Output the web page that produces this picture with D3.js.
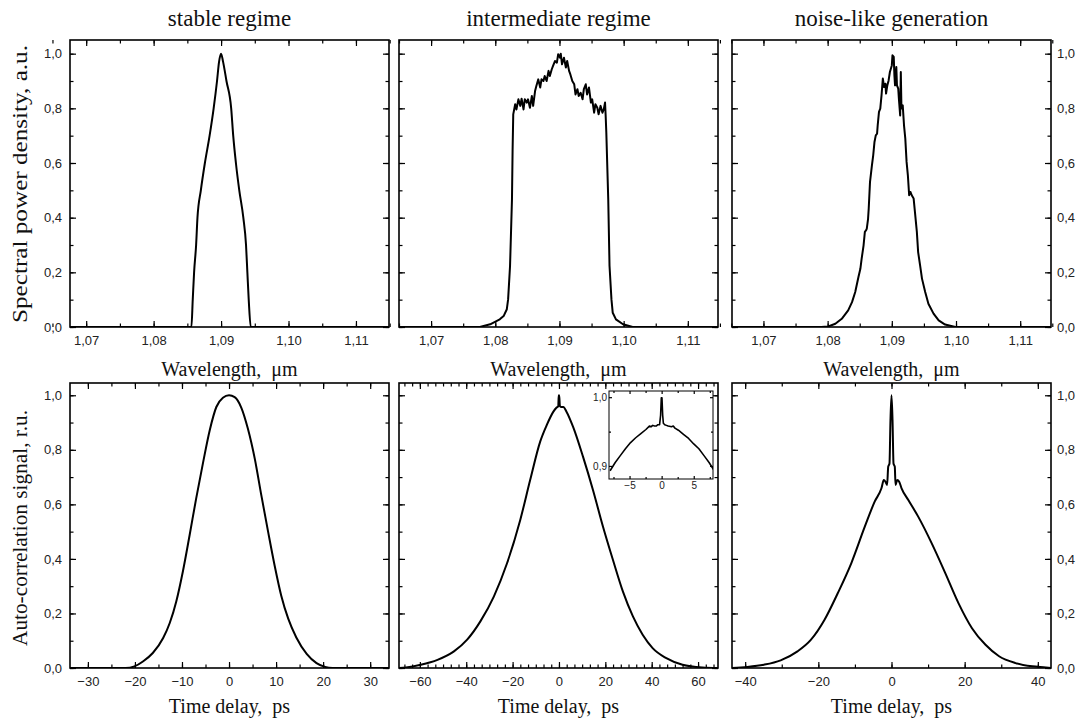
<!DOCTYPE html>
<html>
<head>
<meta charset="utf-8">
<script src="https://cdn.jsdelivr.net/npm/d3@7"></script>
<style>
body { margin: 0; background: #fff; }
.tick text { font-family: "Liberation Sans", Arial, sans-serif; font-size: 13px; fill: #222; }
.tick line { stroke: #000; stroke-width: 1.2; }
.inset .tick text { font-size: 10px; }
.lbl { font-family: "Liberation Serif", "Times New Roman", serif; fill: #111; white-space: pre; }
</style>
</head>
<body>
<script>
// titles and tick labels
const titles = ["stable regime", "intermediate regime", "noise-like generation"];
const wlTicks = [1.07, 1.08, 1.09, 1.10, 1.11];
const yTicks = [0, 0.2, 0.4, 0.6, 0.8, 1.0];
const delayTicks = [[-30, -20, -10, 0, 10, 20, 30], [-60, -40, -20, 0, 20, 40, 60], [-40, -20, 0, 20, 40]];

// spectra (wavelength, um / spectral power density, a.u.)
const stableWl  = [1.0676, 1.0856, 1.0858, 1.0860, 1.0863, 1.0865, 1.0870, 1.0876, 1.0883, 1.0889, 1.0894, 1.0897, 1.0900, 1.0903, 1.0908, 1.0915, 1.0918, 1.0922, 1.0927, 1.0933, 1.0937, 1.0939, 1.0941, 1.0944, 1.1149];
const stableSpd = [0, 0, 0.1, 0.2, 0.3, 0.4, 0.5, 0.6, 0.7, 0.8, 0.9, 0.97, 1.0, 0.97, 0.9, 0.8, 0.7, 0.6, 0.5, 0.4, 0.3, 0.2, 0.1, 0, 0];

const interWl  = [1.065, 1.0776, 1.0792, 1.0807, 1.0813, 1.0818, 1.0820, 1.0823, 1.0826, 1.0827, 1.0828, 1.0831, 1.0833, 1.0836, 1.0839, 1.0841, 1.0844, 1.0846, 1.0849, 1.0851, 1.0854, 1.0857, 1.0859, 1.0862, 1.0864, 1.0867, 1.0870, 1.0872, 1.0875, 1.0877, 1.0880, 1.0883, 1.0885, 1.0888, 1.0890, 1.0893, 1.0896, 1.0898, 1.0901, 1.0902, 1.0904, 1.0907, 1.0910, 1.0912, 1.0915, 1.0917, 1.0920, 1.0923, 1.0925, 1.0928, 1.0930, 1.0933, 1.0936, 1.0938, 1.0941, 1.0943, 1.0946, 1.0949, 1.0951, 1.0954, 1.0956, 1.0959, 1.0961, 1.0964, 1.0967, 1.0969, 1.0971, 1.0972, 1.0973, 1.0976, 1.0978, 1.0981, 1.0983, 1.0988, 1.0999, 1.1014, 1.1147];
const interSpd = [0, 0, 0.010, 0.028, 0.040, 0.065, 0.101, 0.223, 0.467, 0.650, 0.778, 0.815, 0.796, 0.833, 0.809, 0.835, 0.796, 0.833, 0.821, 0.833, 0.802, 0.845, 0.809, 0.863, 0.882, 0.906, 0.876, 0.906, 0.900, 0.918, 0.900, 0.937, 0.918, 0.943, 0.955, 0.973, 0.967, 0.998, 0.985, 1.0, 0.961, 0.985, 0.949, 0.973, 0.937, 0.924, 0.900, 0.888, 0.851, 0.870, 0.845, 0.857, 0.833, 0.870, 0.888, 0.851, 0.876, 0.821, 0.833, 0.784, 0.815, 0.802, 0.778, 0.809, 0.784, 0.796, 0.821, 0.772, 0.711, 0.467, 0.223, 0.101, 0.052, 0.028, 0.010, 0, 0];

const noiseWl  = [1.0651, 1.0790, 1.0801, 1.0812, 1.0822, 1.0832, 1.0838, 1.0843, 1.0848, 1.0851, 1.0853, 1.0856, 1.0858, 1.0860, 1.0861, 1.0863, 1.0864, 1.0866, 1.0869, 1.0871, 1.0873, 1.0875, 1.0877, 1.0878, 1.0880, 1.0882, 1.0884, 1.0886, 1.0888, 1.0890, 1.0891, 1.0893, 1.0895, 1.0897, 1.0900, 1.0901, 1.0903, 1.0904, 1.0905, 1.0907, 1.0908, 1.0910, 1.0911, 1.0913, 1.0914, 1.0915, 1.0917, 1.0919, 1.0921, 1.0923, 1.0925, 1.0927, 1.0929, 1.0931, 1.0934, 1.0936, 1.0939, 1.0941, 1.0944, 1.0947, 1.0952, 1.0957, 1.0965, 1.0973, 1.0983, 1.0999, 1.1148];
const noiseSpd = [0, 0, 0.002, 0.012, 0.030, 0.061, 0.091, 0.128, 0.183, 0.213, 0.250, 0.299, 0.348, 0.354, 0.360, 0.396, 0.433, 0.530, 0.591, 0.628, 0.677, 0.701, 0.707, 0.738, 0.787, 0.799, 0.848, 0.909, 0.878, 0.890, 0.854, 0.884, 0.902, 0.933, 0.957, 0.994, 0.988, 0.921, 0.884, 0.951, 0.884, 0.872, 0.835, 0.774, 0.933, 0.799, 0.811, 0.738, 0.689, 0.604, 0.555, 0.482, 0.494, 0.482, 0.470, 0.421, 0.348, 0.274, 0.226, 0.177, 0.128, 0.085, 0.049, 0.024, 0.009, 0, 0];

// autocorrelation traces (time delay, ps / signal, r.u.)
const stableDelay = [-33.8, -22, -20.1, -18.3, -16.2, -14.0, -12.6, -11.2, -9.8, -8.4, -7.0, -5.5, -4.1, -2.7, -1.3, 0, 1.2, 2.6, 4.0, 5.5, 6.9, 8.3, 9.7, 11.1, 12.6, 14.3, 16.5, 18.6, 20.4, 22, 34];
const stableAcf   = [0, 0, 0.006, 0.024, 0.055, 0.110, 0.165, 0.245, 0.355, 0.485, 0.620, 0.755, 0.872, 0.957, 0.991, 1.0, 0.993, 0.955, 0.878, 0.765, 0.630, 0.500, 0.375, 0.265, 0.180, 0.112, 0.052, 0.018, 0.004, 0, 0];

const interDelay = [-69, -66, -59.6, -52.4, -45.3, -39.6, -33.9, -28.1, -22.4, -16.7, -12.4, -8.1, -5.3, -2.4, -1.0, -0.3, -0.1, 0.1, 0.4, 1.0, 1.9, 3.3, 6.1, 10.4, 14.7, 19.0, 23.3, 27.6, 31.9, 36.1, 40.4, 46.1, 53.3, 61.9, 68.6];
const interAcf   = [0, 0.002, 0.012, 0.030, 0.061, 0.104, 0.171, 0.262, 0.384, 0.543, 0.690, 0.830, 0.890, 0.940, 0.955, 0.960, 1.0, 1.0, 0.960, 0.957, 0.957, 0.939, 0.884, 0.774, 0.652, 0.518, 0.396, 0.280, 0.189, 0.122, 0.073, 0.037, 0.012, 0.002, 0];

const noiseDelay = [-43.6, -39.4, -34.9, -30.3, -25.7, -22.0, -18.3, -14.7, -11.0, -7.3, -4.6, -2.75, -2.1, -1.65, -1.2, -0.9, -0.55, -0.28, 0, 0.28, 0.55, 0.9, 1.1, 1.56, 2.1, 2.75, 4.6, 7.3, 11.0, 14.7, 18.3, 22.0, 25.7, 29.4, 33.9, 38.5, 42.2, 43.6];
const noiseAcf   = [0, 0.004, 0.012, 0.028, 0.061, 0.104, 0.177, 0.274, 0.384, 0.518, 0.610, 0.659, 0.689, 0.683, 0.671, 0.738, 0.750, 0.909, 1.0, 0.909, 0.750, 0.738, 0.671, 0.689, 0.683, 0.659, 0.616, 0.555, 0.457, 0.348, 0.238, 0.146, 0.085, 0.043, 0.018, 0.006, 0.002, 0];

// inset of the intermediate autocorrelation
const insetDelay = [-8.03, -7.23, -6.44, -5.64, -4.84, -4.04, -3.24, -2.45, -1.91, -1.65, -1.38, -1.12, -0.85, -0.59, -0.32, -0.16, -0.05, 0.05, 0.16, 0.27, 0.48, 0.74, 1.01, 1.54, 1.81, 2.07, 2.61, 3.40, 4.20, 5.00, 5.80, 6.60, 7.39, 8.19];
const insetAcf   = [0.893, 0.905, 0.915, 0.925, 0.934, 0.941, 0.947, 0.953, 0.958, 0.957, 0.959, 0.958, 0.958, 0.960, 0.960, 0.974, 0.999, 0.999, 0.974, 0.962, 0.960, 0.959, 0.958, 0.957, 0.958, 0.955, 0.952, 0.946, 0.940, 0.932, 0.925, 0.915, 0.905, 0.893];

const W = 1085, H = 722;
const svg = d3.select("body").append("svg").attr("width", W).attr("height", H);

const cols = [[70, 389], [399, 718], [732, 1051]];
const rows = [[40, 327], [383, 668]];

const comma = f => v => d3.format(f)(v).replace(".", ",");

function addAxis(g, axisFn, scale, tr, major, minor, fmt, labels, big, small, pad) {
  g.append("g").attr("transform", tr)
    .call(axisFn(scale).tickValues(minor).tickSize(-small).tickFormat(""))
    .call(s => s.select(".domain").remove());
  g.append("g").attr("transform", tr)
    .call(axisFn(scale).tickValues(major).tickSize(-big).tickPadding(pad).tickFormat(labels ? fmt : ""))
    .call(s => s.select(".domain").remove());
}

let clipId = 0;
function panel(opt) {
  const x = d3.scaleLinear().domain(opt.xd).range([opt.x0, opt.x1]);
  const y = d3.scaleLinear().domain(opt.yd).range([opt.y1, opt.y0]);
  const g = svg.append("g").attr("class", opt.cls || "");
  if (opt.fill) g.append("rect").attr("x", opt.x0).attr("y", opt.y0)
    .attr("width", opt.x1 - opt.x0).attr("height", opt.y1 - opt.y0).attr("fill", "#fff");

  const id = "clip" + (clipId++);
  g.append("clipPath").attr("id", id).append("rect")
    .attr("x", opt.x0).attr("y", opt.y0).attr("width", opt.x1 - opt.x0).attr("height", opt.y1 - opt.y0);

  // smooth traces go through monotone curve, noisy spectra stay linear
  const line = d3.line().x(d => x(d[0])).y(d => y(d[1]))
    .curve(opt.smooth ? d3.curveMonotoneX : d3.curveLinear);
  g.append("path").datum(d3.zip(opt.xs, opt.ys))
    .attr("clip-path", "url(#" + id + ")")
    .attr("d", line).attr("fill", "none").attr("stroke", "#000")
    .attr("stroke-width", opt.lw || 2).attr("stroke-linejoin", "round");

  const big = opt.big || 6, small = opt.small || 3.5;
  addAxis(g, d3.axisBottom, x, `translate(0,${opt.y1})`, opt.xMajor, opt.xMinor, opt.xFmt, true, big, small, opt.xPad || 9);
  addAxis(g, d3.axisTop, x, `translate(0,${opt.y0})`, opt.xMajor, opt.xMinor, opt.xFmt, false, big, small, 0);
  addAxis(g, d3.axisLeft, y, `translate(${opt.x0},0)`, opt.yMajor, opt.yMinor, opt.yFmt, opt.yLeft, big, small, opt.yPad || 8);
  addAxis(g, d3.axisRight, y, `translate(${opt.x1},0)`, opt.yMajor, opt.yMinor, opt.yFmt, opt.yRight, big, small, 6);

  g.append("rect").attr("x", opt.x0).attr("y", opt.y0)
    .attr("width", opt.x1 - opt.x0).attr("height", opt.y1 - opt.y0)
    .attr("fill", "none").attr("stroke", "#000").attr("stroke-width", opt.frame || 1.6);
  return { x, y };
}

const yMinor = d3.range(0, 1.05, 0.1);
const wlMinor = d3.range(1.065, 1.1151, 0.005);
const spectra = [[stableWl, stableSpd, [1.0676, 1.1149], true], [interWl, interSpd, [1.065, 1.1147], false], [noiseWl, noiseSpd, [1.0651, 1.1148], false]];
const acfs = [
  [stableDelay, stableAcf, [-33.8, 34], d3.range(-30, 31, 5)],
  [interDelay, interAcf, [-69, 68.6], d3.range(-200, 201, 1).map(i => i * 10 / 3).filter(v => v > -69 && v < 68.6)],
  [noiseDelay, noiseAcf, [-43.6, 43.6], d3.range(-40, 41, 10)]
];

cols.forEach((c, i) => {
  const s = spectra[i];
  panel({
    x0: c[0], x1: c[1], y0: rows[0][0], y1: rows[0][1],
    xd: s[2], yd: [0, 1.05], xs: s[0], ys: s[1], smooth: s[3],
    xMajor: wlTicks, xMinor: wlMinor, xFmt: comma(".2f"),
    yMajor: yTicks, yMinor: yMinor, yFmt: comma(".1f"),
    yLeft: i === 0, yRight: i === 2
  });
  const a = acfs[i];
  panel({
    x0: c[0], x1: c[1], y0: rows[1][0], y1: rows[1][1],
    xd: a[2], yd: [0, 1.045], xs: a[0], ys: a[1], smooth: true,
    xMajor: delayTicks[i], xMinor: a[3], xFmt: d3.format("d"),
    yMajor: yTicks, yMinor: yMinor, yFmt: comma(".1f"),
    yLeft: i === 0, yRight: i === 2
  });

  const cx = (c[0] + c[1]) / 2;
  svg.append("text").attr("class", "lbl").attr("x", cx).attr("y", 26)
    .attr("text-anchor", "middle").attr("font-size", 23).text(titles[i]);
  svg.append("text").attr("class", "lbl").attr("x", cx).attr("y", 376)
    .attr("text-anchor", "middle").attr("font-size", 20).text("Wavelength,  \u03bcm");
  svg.append("text").attr("class", "lbl").attr("x", cx).attr("y", 713)
    .attr("text-anchor", "middle").attr("font-size", 20).text("Time delay,  ps");
});

// inset
panel({
  cls: "inset", fill: true,
  x0: 609, x1: 713, y0: 391, y1: 479,
  xd: [-8.2, 8], yd: [0.881, 1.009], xs: insetDelay, ys: insetAcf, lw: 1.6,
  xMajor: [-5, 0, 5], xMinor: [-7.5, -2.5, 2.5, 7.5], xFmt: d3.format("d"), xPad: 3,
  yMajor: [0.9, 1.0], yMinor: [0.95], yFmt: comma(".1f"), yPad: 2,
  yLeft: true, yRight: false, big: 3, small: 2, frame: 1
});

svg.append("text").attr("class", "lbl").attr("transform", "translate(27,184) rotate(-90)")
  .attr("text-anchor", "middle").attr("font-size", 21).attr("textLength", 278)
  .attr("lengthAdjust", "spacingAndGlyphs").text("Spectral power density, a.u.");
svg.append("text").attr("class", "lbl").attr("transform", "translate(27,528) rotate(-90)")
  .attr("text-anchor", "middle").attr("font-size", 21).attr("textLength", 236)
  .attr("lengthAdjust", "spacingAndGlyphs").text("Auto-correlation signal, r.u.");
</script>
</body>
</html>
